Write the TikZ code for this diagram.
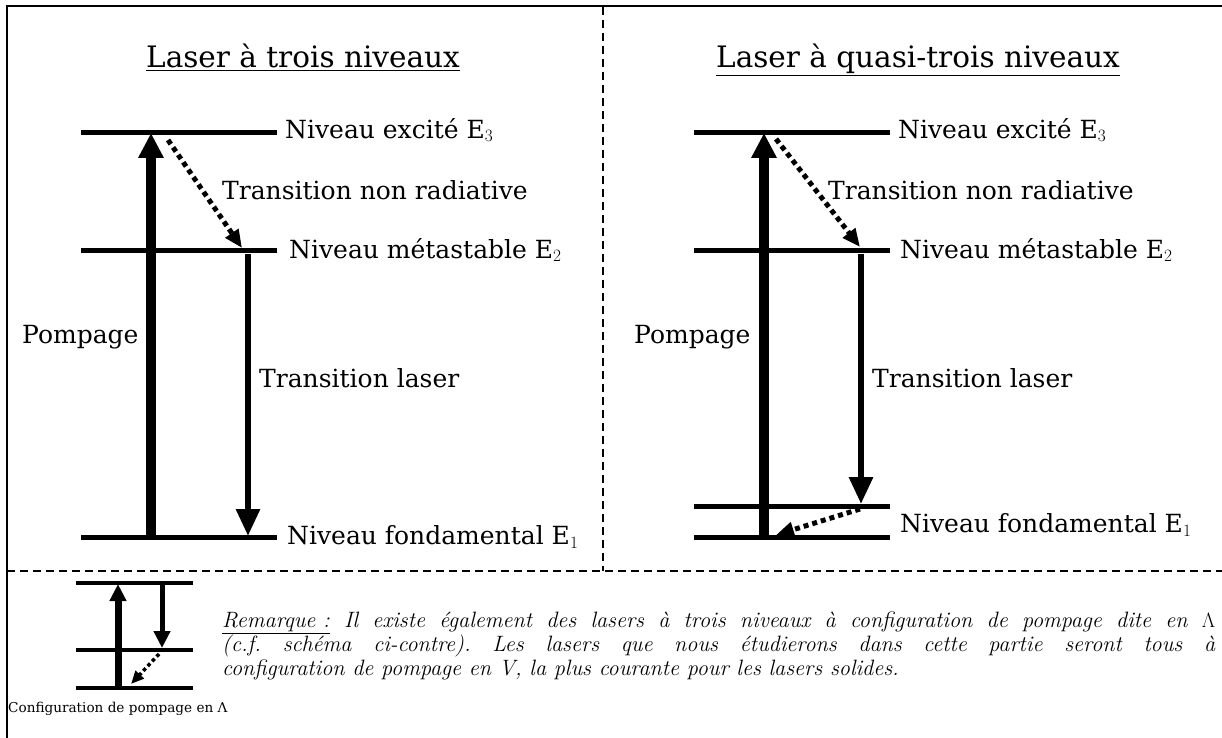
\documentclass[tikz,border=0pt]{standalone}
\usepackage{fontspec}
\setmainfont{DejaVu Serif}
\newfontfamily\remfont{Latin Modern Roman}
\usetikzlibrary{arrows.meta}
\frenchspacing
\begin{document}
\begin{tikzpicture}[x=1pt,y=-1pt,
  level/.style={line width=5pt},
  pump/.style={line width=10pt,-{Triangle[length=25pt,width=24pt]}},
  lasr/.style={line width=6pt,-{Triangle[length=27pt,width=23pt]}},
  nonrad/.style={line width=5pt,dash pattern=on 5pt off 4pt,-{Triangle[length=18pt,width=15pt]}},
  lbl/.style={anchor=west,inner sep=0pt,font=\fontsize{25}{29}\selectfont},
  ttl/.style={anchor=base,inner sep=0pt,font=\fontsize{29.5}{34}\selectfont},
  sep/.style={line width=1.5pt,dash pattern=on 8pt off 5pt},
  smlevel/.style={line width=4pt},
  smpump/.style={line width=7pt,-{Triangle[length=17pt,width=16pt]}},
  smlasr/.style={line width=5pt,-{Triangle[length=17pt,width=16pt]}},
  smnonrad/.style={line width=3.5pt,dash pattern=on 3.5pt off 3pt,-{Triangle[length=13pt,width=11pt]}}]
\useasboundingbox (0,0) rectangle (1222,738);
% frame
\draw[line width=2pt] (7,738) -- (7,6) -- (1222,6);
\coordinate (vt) at (603,7);
\coordinate (vb) at (603,571);
\coordinate (hl) at (7,571);
\coordinate (hr) at (1222,571);
\draw[sep] (vt) -- (vb);
\draw[sep] (hl) -- (hr);
% titles
\node[ttl] (t1) at (303,68) {\underline{Laser à trois niveaux}};
\node[ttl] (t2) at (918,68) {\underline{Laser à quasi-trois niveaux}};
% ---------- left diagram
\coordinate (a3l) at (81,133); \coordinate (a3r) at (277,133);
\coordinate (a2l) at (81,250); \coordinate (a2r) at (277,250);
\coordinate (a1l) at (81,537); \coordinate (a1r) at (277,537);
\draw[level] (a3l) -- (a3r);
\draw[level] (a2l) -- (a2r);
\draw[level] (a1l) -- (a1r);
\coordinate (ap0) at (151,537); \coordinate (ap1) at (151,133);
\draw[pump] (ap0) -- (ap1);
\coordinate (an0) at (168,140); \coordinate (an1) at (242,248);
\draw[nonrad] (an0) -- (an1);
\coordinate (al0) at (248,254); \coordinate (al1) at (248,536);
\draw[lasr] (al0) -- (al1);
\node[lbl] (ae3) at (285,130) {Niveau excité E$_3$};
\node[lbl] (anr) at (222,190) {Transition non radiative};
\node[lbl] (ae2) at (289,250) {Niveau métastable E$_2$};
\node[lbl] (apo) at (22,337) {Pompage};
\node[lbl] (atl) at (259,378) {Transition laser};
\node[lbl] (ae1) at (287,537) {Niveau fondamental E$_1$};
% ---------- right diagram
\coordinate (b3l) at (694,133); \coordinate (b3r) at (890,133);
\coordinate (b2l) at (694,250); \coordinate (b2r) at (890,250);
\coordinate (b1l) at (694,506); \coordinate (b1r) at (890,506);
\coordinate (b0l) at (694,537); \coordinate (b0r) at (890,537);
\draw[level] (b3l) -- (b3r);
\draw[level] (b2l) -- (b2r);
\draw[level] (b1l) -- (b1r);
\draw[level] (b0l) -- (b0r);
\coordinate (bp0) at (764,537); \coordinate (bp1) at (764,133);
\draw[pump] (bp0) -- (bp1);
\coordinate (bn0) at (776,139); \coordinate (bn1) at (860,247);
\draw[nonrad] (bn0) -- (bn1);
\coordinate (bl0) at (861,254); \coordinate (bl1) at (861,504);
\draw[lasr] (bl0) -- (bl1);
\coordinate (bm0) at (860,509); \coordinate (bm1) at (776,535);
\draw[nonrad] (bm0) -- (bm1);
\node[lbl] (be3) at (898,130) {Niveau excité E$_3$};
\node[lbl] (bnr) at (828,190) {Transition non radiative};
\node[lbl] (be2) at (900,250) {Niveau métastable E$_2$};
\node[lbl] (bpo) at (634,337) {Pompage};
\node[lbl] (btl) at (872,378) {Transition laser};
\node[lbl] (be1) at (900,525) {Niveau fondamental E$_1$};
% ---------- small Lambda diagram
\coordinate (c3l) at (76,583); \coordinate (c3r) at (193,583);
\coordinate (c2l) at (76,650); \coordinate (c2r) at (193,650);
\coordinate (c1l) at (76,688); \coordinate (c1r) at (193,688);
\draw[smlevel] (c3l) -- (c3r);
\draw[smlevel] (c2l) -- (c2r);
\draw[smlevel] (c1l) -- (c1r);
\coordinate (cp0) at (118,688); \coordinate (cp1) at (118,584);
\draw[smpump] (cp0) -- (cp1);
\coordinate (cl0) at (162,585); \coordinate (cl1) at (162,648);
\draw[smlasr] (cl0) -- (cl1);
\coordinate (cn0) at (159,654); \coordinate (cn1) at (131,684);
\draw[smnonrad] (cn0) -- (cn1);
\node[anchor=base west,inner sep=0pt,font=\fontsize{13.6}{16}\selectfont] (cap) at (8,712) {Configuration de pompage en Λ};
% ---------- remark
\node[anchor=north west,inner sep=0pt,text width=993pt,align=justify,
  font=\remfont\fontsize{22.2}{24}\selectfont\itshape] (rem) at (222,612)
  {\underline{Remarque :} Il existe également des lasers à trois niveaux à configuration de pompage dite en $\Lambda$\linebreak
  (c.f. schéma ci-contre). Les lasers que nous étudierons dans cette partie seront tous à\linebreak
  configuration de pompage en V, la plus courante pour les lasers solides.};
\end{tikzpicture}
\end{document}
